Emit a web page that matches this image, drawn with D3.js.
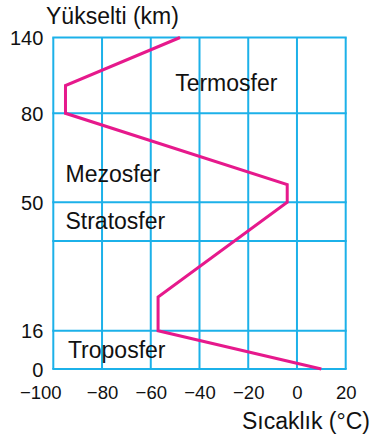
<!DOCTYPE html>
<html>
<head>
<meta charset="utf-8">
<script src="https://cdn.jsdelivr.net/npm/d3@7"></script>
<style>
  html, body { margin: 0; padding: 0; background: #fff; }
  svg { display: block; font-family: 'Liberation Sans', Arial, sans-serif; }
</style>
</head>
<body>
<div class="container"></div>
<script>
// Data
const tempTicks = [-100, -80, -60, -40, -20, 0, 20];
const altTicks = [0, 16, 40, 50, 80, 140];
const altLabels = ['0', '16', '', '50', '80', '140'];
const profileTemp = [10, -57, -57, -4, -4, -95, -95, -48];
const profileAlt = [0, 16, 25, 50, 56, 80, 102, 140];
const layerNames = ['Termosfer', 'Mezosfer', 'Stratosfer', 'Troposfer'];
const layerTemp = [-50, -95, -95, -94];
const layerAlt = [98, 57, 43, 4.5];

const width = 371;
const height = 438;
const gridColor = '#1cb1e9';
const lineColor = '#e6198c';

const x = d3.scaleLinear().domain([-100, 20]).range([53.3, 345.7]);
// schematic (piecewise) altitude axis
const y = d3
  .scaleLinear()
  .domain(altTicks)
  .range([369, 330.7, 241, 202.3, 113.3, 37.5]);

const svg = d3
  .select('.container')
  .append('svg')
  .attr('width', width)
  .attr('height', height);

// Grid
const grid = svg.append('g').attr('class', 'grid');
grid
  .selectAll('line.v')
  .data(tempTicks)
  .enter()
  .append('line')
  .attr('class', 'v')
  .attr('x1', (d) => x(d))
  .attr('x2', (d) => x(d))
  .attr('y1', y(0))
  .attr('y2', y(140))
  .attr('stroke', gridColor)
  .attr('stroke-width', 2);
grid
  .selectAll('line.h')
  .data(altTicks)
  .enter()
  .append('line')
  .attr('class', 'h')
  .attr('x1', x(-100) - 1)
  .attr('x2', x(20) + 1)
  .attr('y1', (d) => y(d))
  .attr('y2', (d) => y(d))
  .attr('stroke', gridColor)
  .attr('stroke-width', 2);

// Axes (labels only)
const yAxis = d3
  .axisLeft(y)
  .tickValues(altTicks)
  .tickFormat((d, i) => altLabels[i])
  .tickSize(0)
  .tickPadding(10);
svg
  .append('g')
  .attr('transform', `translate(${x(-100)},0)`)
  .call(yAxis)
  .call((g) => g.select('.domain').remove())
  .selectAll('text')
  .attr('fill', '#111')
  .style('font-size', '20px')
  .attr('dy', '0.36em');

const xAxis = d3
  .axisBottom(x)
  .tickValues(tempTicks)
  .tickFormat((d) => (d < 0 ? '\u2212' + Math.abs(d) : d))
  .tickSize(0)
  .tickPadding(17);
svg
  .append('g')
  .attr('transform', `translate(0,${y(0)})`)
  .call(xAxis)
  .call((g) => g.select('.domain').remove())
  .selectAll('text')
  .attr('fill', '#111')
  .style('font-size', '18.5px')
  .attr('dx', (d) => (d === -100 ? -13 : 0));

// Axis titles
svg
  .append('text')
  .attr('x', 46)
  .attr('y', 24)
  .attr('fill', '#111')
  .style('font-size', '23px')
  .text('Yükselti (km)');

svg
  .append('text')
  .attr('x', 370)
  .attr('y', 429)
  .attr('text-anchor', 'end')
  .attr('fill', '#111')
  .style('font-size', '23px')
  .text('Sıcaklık (°C)');

// Temperature profile
const line = d3
  .line()
  .x((d) => x(profileTemp[d]))
  .y((d) => y(profileAlt[d]));
svg
  .append('path')
  .datum(d3.range(profileTemp.length))
  .attr('d', line)
  .attr('fill', 'none')
  .attr('stroke', lineColor)
  .attr('stroke-width', 3)
  .attr('stroke-linejoin', 'miter');

// Layer names
svg
  .append('g')
  .selectAll('text')
  .data(layerNames)
  .enter()
  .append('text')
  .attr('x', (d, i) => x(layerTemp[i]))
  .attr('y', (d, i) => y(layerAlt[i]))
  .attr('fill', '#111')
  .style('font-size', '23px')
  .text((d) => d);
</script>
</body>
</html>
